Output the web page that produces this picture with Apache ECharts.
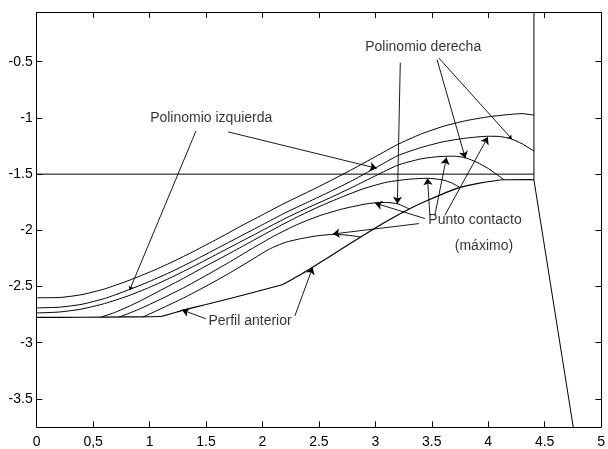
<!DOCTYPE html>
<html><head><meta charset="utf-8">
<script src="https://cdn.jsdelivr.net/npm/echarts@6/dist/echarts.min.js"></script>
<style>html,body{margin:0;padding:0;background:#fff}#c{width:608px;height:449px}</style>
</head><body><div id="c"></div>
<script>
// ---- tick labels ----
const xTickLabels = ['0','0,5','1','1.5','2','2.5','3','3.5','4','4.5','5'];
const xTickValues = [0,0.5,1,1.5,2,2.5,3,3.5,4,4.5,5];
const yTickValues = [-3.5,-3,-2.5,-2,-1.5,-1,-0.5];

// ---- curves (x, y) ----
const polyC1 = [[0,-2.6],[0.2,-2.598],[0.4,-2.572],[0.6,-2.522],[0.8,-2.452],[1.0,-2.372],[1.2,-2.282],[1.4,-2.182],[1.6,-2.077],[1.8,-1.967],[2.0,-1.862],[2.2,-1.757],[2.4,-1.66],[2.6,-1.56],[2.8,-1.455],[3.0,-1.345],[3.2,-1.235],[3.4,-1.145],[3.6,-1.075],[3.8,-1.025],[4.0,-0.99],[4.2,-0.968],[4.3,-0.962],[4.405,-0.975]];
const polyP2 = [[0,-2.69],[0.2,-2.684],[0.4,-2.658],[0.6,-2.607],[0.8,-2.535],[1.0,-2.455],[1.2,-2.365],[1.4,-2.265],[1.6,-2.16],[1.8,-2.055],[2.0,-1.95],[2.2,-1.845],[2.4,-1.75],[2.6,-1.655],[2.8,-1.555],[3.0,-1.445],[3.2,-1.335],[3.4,-1.265],[3.6,-1.212],[3.8,-1.18],[4.0,-1.163],[4.1,-1.165],[4.2,-1.185],[4.3,-1.23],[4.405,-1.295]];
const polyP3 = [[0,-2.735],[0.2,-2.727],[0.4,-2.7],[0.6,-2.652],[0.8,-2.587],[1.0,-2.507],[1.2,-2.415],[1.4,-2.315],[1.6,-2.21],[1.8,-2.105],[2.0,-2.0],[2.2,-1.895],[2.4,-1.8],[2.6,-1.71],[2.8,-1.615],[3.0,-1.515],[3.2,-1.42],[3.4,-1.365],[3.55,-1.345],[3.7,-1.34],[3.8,-1.355],[3.9,-1.395],[4.0,-1.45],[4.14,-1.55]];
const polyP4 = [[0.57,-2.772],[0.7,-2.728],[0.9,-2.637],[1.1,-2.532],[1.3,-2.427],[1.5,-2.317],[1.7,-2.21],[1.9,-2.1],[2.1,-1.99],[2.3,-1.885],[2.5,-1.79],[2.7,-1.705],[2.9,-1.628],[3.1,-1.572],[3.3,-1.545],[3.46,-1.537],[3.6,-1.552],[3.68,-1.58],[3.75,-1.62]];
const polyP5 = [[0.73,-2.772],[0.9,-2.705],[1.1,-2.612],[1.3,-2.512],[1.5,-2.402],[1.7,-2.287],[1.9,-2.167],[2.1,-2.052],[2.3,-1.952],[2.5,-1.872],[2.7,-1.812],[2.9,-1.768],[3.0,-1.755],[3.1,-1.752],[3.2,-1.765],[3.3,-1.81]];
const polyP6 = [[0.94,-2.772],[1.1,-2.698],[1.3,-2.602],[1.5,-2.497],[1.7,-2.385],[1.9,-2.265],[2.06,-2.168],[2.2,-2.108],[2.35,-2.072],[2.5,-2.047],[2.62,-2.037],[2.72,-2.04],[2.82,-2.052],[2.87,-2.06]];
const perfilLow = [[0,-2.775],[0.4,-2.774],[0.8,-2.77],[1.09,-2.767],[1.29,-2.712],[1.5,-2.66],[1.73,-2.602],[1.95,-2.545],[2.175,-2.484]];
const perfilHigh = [[2.175,-2.484],[2.357,-2.381],[2.6,-2.23],[2.87,-2.06],[3.1,-1.92],[3.3,-1.81],[3.47,-1.73],[3.73,-1.625],[3.9,-1.585],[4.14,-1.55],[4.38,-1.548],[4.405,-1.552]];
const perfilDrop = [[4.405,-1.552],[4.753,-3.75]];
const verticalLine = [[4.405,-0.06],[4.405,-1.552]];
const levelLine = [[0,-1.5],[4.405,-1.5]];

// ---- annotation leader lines (from text to tip) ----
const arrowLines = [
  [[1.696,-1.124],[3.012,-1.448]],
  [[3.221,-0.509],[3.195,-1.763]],
  [[3.547,-0.482],[3.797,-1.359]],
  [[3.483,-1.866],[3.462,-1.536]],
  [[3.527,-1.866],[3.630,-1.352]],
  [[3.616,-1.866],[3.997,-1.170]],
  [[3.439,-1.895],[2.998,-1.758]],
  [[3.386,-1.940],[2.622,-2.033]],
  [[1.499,-2.787],[1.287,-2.708]],
  [[2.287,-2.761],[2.445,-2.33]]
];
const tickLines = [
  [[1.411,-1.116],[0.823,-2.532]],
  [[3.563,-0.467],[4.209,-1.187]]
];
// ---- annotation texts ----
const labelTexts = ['Polinomio izquierda','Polinomio derecha','Punto contacto','(máximo)','Perfil anterior'];
const labelPoints = [[1.546,-1.006],[3.424,-0.374],[3.883,-1.911],[3.962,-2.145],[1.89,-2.808]];

const Y_MIN = -3.75, Y_MAX = -0.06, X_MIN = 0, X_MAX = 5;
const TICK_DX = 0.05, TICK_DY = 0.05; // inward tick length, in axis units (~5.5 px)
const chart = echarts.init(document.getElementById('c'), null, {renderer:'canvas'});
const FONT = 'Liberation Sans, Arial, Helvetica, sans-serif';
function curve(data, smooth, width) {
  return {type:'line', data:data, symbol:'none', showSymbol:false, smooth:smooth,
    lineStyle:{color:'#000', width:width||1}, silent:true, clip:true, z:3};
}
const lineAxis = {show:true, onZero:false, lineStyle:{color:'#000', width:1}};
// inward tick marks on all four sides, built from the tick value lists
const tickSegments = [];
xTickValues.forEach(function(v){
  tickSegments.push({coords:[[v, Y_MIN],[v, Y_MIN + TICK_DY]]});
  tickSegments.push({coords:[[v, Y_MAX],[v, Y_MAX - TICK_DY]]});
});
yTickValues.forEach(function(v){
  tickSegments.push({coords:[[X_MIN, v],[X_MIN + TICK_DX, v]]});
  tickSegments.push({coords:[[X_MAX, v],[X_MAX - TICK_DX, v]]});
});
chart.setOption({
  animation:false,
  backgroundColor:'#fff',
  grid:{left:36.7, right:4, top:12.3, bottom:19.7, show:false},
  xAxis:[
    {type:'value', min:X_MIN, max:X_MAX, interval:0.5, position:'bottom',
      axisLine:lineAxis, axisTick:{show:false}, splitLine:{show:false},
      axisLabel:{show:true, margin:8, color:'#000', fontSize:14, fontFamily:FONT,
        formatter:function(v){return xTickLabels[Math.round(v/0.5)];}}},
    {type:'value', min:X_MIN, max:X_MAX, interval:0.5, position:'top',
      axisLine:lineAxis, axisTick:{show:false}, splitLine:{show:false}, axisLabel:{show:false}}
  ],
  yAxis:[
    {type:'value', min:Y_MIN, max:Y_MAX, position:'left',
      axisLine:lineAxis, splitLine:{show:false}, axisTick:{show:false},
      axisLabel:{show:true, margin:4, color:'#000', fontSize:14, fontFamily:FONT, customValues:yTickValues}},
    {type:'value', min:Y_MIN, max:Y_MAX, position:'right',
      axisLine:lineAxis, splitLine:{show:false}, axisTick:{show:false},
      axisLabel:{show:false}}
  ],
  series:[
    {type:'lines', coordinateSystem:'cartesian2d', silent:true, z:6,
      symbol:['none','none'], lineStyle:{color:'#000', width:1, opacity:1},
      data:tickSegments},
    curve(levelLine, false, 1),
    curve(verticalLine, false, 1),
    curve(polyC1, 0.2),
    curve(polyP2, 0.2),
    curve(polyP3, 0.2),
    curve(polyP4, 0.2),
    curve(polyP5, 0.2),
    curve(polyP6, 0.2),
    curve(perfilLow, 0.2, 1.1),
    curve(perfilHigh, 0.2, 1.2),
    curve(perfilDrop, false, 1),
    {type:'lines', coordinateSystem:'cartesian2d', silent:true, z:4,
      symbol:['none','arrow'], symbolSize:[0,7],
      lineStyle:{color:'#000', width:0.9, opacity:1},
      data:arrowLines.map(function(c){return {coords:c};})},
    {type:'lines', coordinateSystem:'cartesian2d', silent:true, z:4,
      symbol:['none','arrow'], symbolSize:[0,4],
      lineStyle:{color:'#000', width:0.9, opacity:1},
      data:tickLines.map(function(c){return {coords:c};})},
    {type:'scatter', silent:true, z:5, symbolSize:1, itemStyle:{color:'rgba(0,0,0,0)'},
      label:{show:true, position:'inside', color:'#000', fontSize:14, fontFamily:FONT,
        formatter:function(p){return p.name;}},
      data:labelTexts.map(function(t,i){return {name:t, value:labelPoints[i]};})}
  ]
});
</script></body></html>
